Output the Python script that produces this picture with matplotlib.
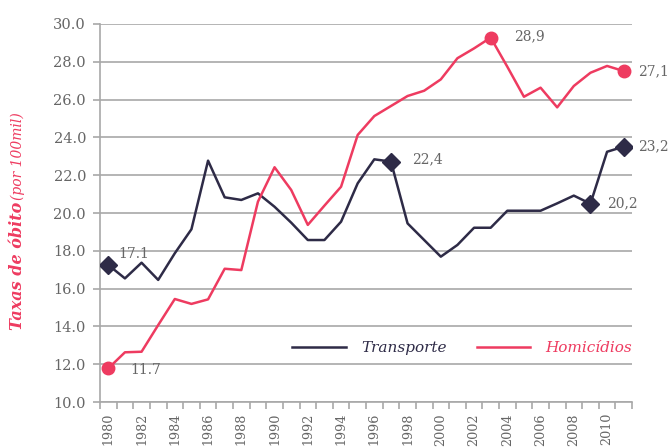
import matplotlib
matplotlib.use("Agg")
import matplotlib.pyplot as plt
import numpy as np

years = list(range(1980, 2012))
transporte = [17.25, 16.54, 17.37, 16.46, 17.87, 19.14, 22.77, 20.83, 20.69, 21.04,
              20.33, 19.49, 18.57, 18.57, 19.54, 21.57, 22.84, 22.72, 19.45, 18.57,
              17.69, 18.31, 19.22, 19.22, 20.12, 20.12, 20.12, 20.51, 20.92, 20.49,
              23.24, 23.51]
homicidios = [11.78, 12.63, 12.66, 14.07, 15.45, 15.19, 15.43, 17.05, 16.98, 20.60,
              22.42, 21.22, 19.37, 20.39, 21.39, 24.13, 25.13, 25.66, 26.19, 26.47,
              27.07, 28.19, 28.71, 29.28, 27.74, 26.15, 26.63, 25.59, 26.72, 27.42,
              27.78, 27.51]

# highlighted points: (year, label)
trans_marks = [(1980, "17.1"), (1997, "22,4"), (2009, "20,2"), (2011, "23,2")]
hom_marks = [(1980, "11.7"), (2003, "28,9"), (2011, "27,1")]

navy = "#2e2b47"
pink = "#ee3b60"
gray = "#a8a8a8"
txt = "#666666"

plt.rcParams['font.family'] = ['DejaVu Serif']

fig = plt.figure(figsize=(6.69, 4.48), dpi=100)
ax = fig.add_axes([100 / 669, 46 / 448, 532 / 669, 378 / 448])

x = np.arange(len(years))
ax.plot(x, transporte, color=navy, lw=1.8, label="Transporte")
ax.plot(x, homicidios, color=pink, lw=1.8, label="Homicídios")

for yr, lab in trans_marks:
    i = years.index(yr)
    ax.plot(x[i], transporte[i], marker="D", ms=9.5, color=navy, zorder=5)
for yr, lab in hom_marks:
    i = years.index(yr)
    ax.plot(x[i], homicidios[i], marker="o", ms=9, color=pink, zorder=5)

def note(yr, series, lab, dx, dy):
    i = years.index(yr)
    ax.annotate(lab, (x[i], series[i]), xytext=(dx, dy), textcoords="offset points",
                fontsize=10, color=txt, va="center", ha="left", annotation_clip=False)

note(1980, transporte, "17.1", 7, 8)
note(1980, homicidios, "11.7", 16, -1)
note(1997, transporte, "22,4", 15, 2)
note(2009, transporte, "20,2", 12, 0)
note(2011, transporte, "23,2", 10, 0)
note(2003, homicidios, "28,9", 17, 1)
note(2011, homicidios, "27,1", 10, 0)

ax.set_xlim(-0.5, len(years) - 0.5)
ax.set_ylim(10, 30)
ax.set_yticks(np.arange(10, 30.1, 2))
ax.set_yticklabels([f"{v:.1f}" for v in np.arange(10, 30.1, 2)])
ax.grid(axis="y", color=gray, lw=1.2)
ax.set_axisbelow(True)

major = [i for i, yr in enumerate(years) if yr % 2 == 0]
ax.set_xticks(major)
ax.set_xticklabels([str(years[i]) for i in major], rotation=90)
ax.set_xticks(np.arange(-0.5, len(years), 1), minor=True)
ax.tick_params(axis="x", which="major", length=0, pad=8, labelsize=9.2, labelcolor=txt)
ax.tick_params(axis="x", which="minor", length=5, color=gray, width=1.2)
ax.tick_params(axis="y", length=5, color=gray, width=1.2, pad=5, labelsize=10.5, labelcolor=txt)

for s in ["top", "right"]:
    ax.spines[s].set_visible(False)
for s in ["left", "bottom"]:
    ax.spines[s].set_color(gray)
    ax.spines[s].set_linewidth(1.2)

leg = ax.legend(ncol=2, frameon=False, loc="center left", bbox_to_anchor=(0.361, 0.143),
                borderaxespad=0, borderpad=0,
                handlelength=3.5, handletextpad=1.0, columnspacing=2.0,
                prop={"style": "italic", "size": 11}, labelcolor="linecolor")

fig.text(18 / 669, 1 - 266 / 448, "Taxas de óbito", rotation=90, color=pink,
         fontsize=11.5, fontweight="bold", style="italic", ha="center", va="center")
fig.text(18 / 669, 1 - 156 / 448, "(por 100mil)", rotation=90, color=pink,
         fontsize=10, style="italic", ha="center", va="center")

fig.savefig("out.png", dpi=100)
